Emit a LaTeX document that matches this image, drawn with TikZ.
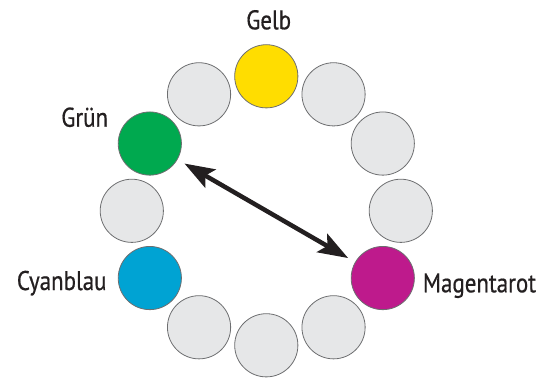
\documentclass[tikz,border=0pt]{standalone}
\usepackage{fontspec}
\setmainfont[FakeStretch=0.85,FakeBold=0.6]{PT Sans}
\usetikzlibrary{arrows.meta}
\definecolor{ringgrey}{HTML}{E6E7E8}
\definecolor{ringedge}{HTML}{6D6E70}
\definecolor{cgelb}{HTML}{FFDD00}
\definecolor{cgruen}{HTML}{00A94F}
\definecolor{ccyan}{HTML}{00A3D3}
\definecolor{cmagenta}{HTML}{BE1A8C}
\definecolor{txt}{HTML}{231F20}
\tikzset{
  dot/.style={circle, draw=ringedge, line width=0.8pt, minimum size=63.2pt, inner sep=0pt, fill=ringgrey},
  lbl/.style={inner sep=0pt, text=txt, font=\fontsize{27}{30}\selectfont},
  arr/.style={line width=4.5pt, draw=txt, {Stealth[length=30pt,width=21pt,inset=6pt]}-{Stealth[length=30pt,width=21pt,inset=6pt]}, shorten <=8pt, shorten >=8pt}
}
\begin{document}
\begin{tikzpicture}[x=1pt,y=-1pt]
\useasboundingbox (0,0) rectangle (552,380);
\foreach \k/\nm/\col in {0/gelb/cgelb,1/d1/ringgrey,2/d2/ringgrey,3/d3/ringgrey,4/magenta/cmagenta,5/d5/ringgrey,6/d6/ringgrey,7/d7/ringgrey,8/cyan/ccyan,9/d9/ringgrey,10/gruen/cgruen,11/d11/ringgrey}{
  \pgfmathsetmacro{\px}{266.3+134.5*cos(90-30*\k)}
  \pgfmathsetmacro{\py}{210.8-134.5*sin(90-30*\k)}
  \node[dot, fill=\col] (\nm) at (\px,\py) {};
}
\node[lbl, anchor=base] (tgelb) at (268.7,29.3) {Gelb};
\node[lbl, anchor=base east] (tgruen) at (108.3,126.7) {Grün};
\node[lbl, anchor=base east] (tcyan) at (106.7,290) {Cyanblau};
\node[lbl, anchor=base west] (tmag) at (422.7,292.3) {Magentarot};
\draw[arr] (gruen) -- (magenta);
\end{tikzpicture}
\end{document}
